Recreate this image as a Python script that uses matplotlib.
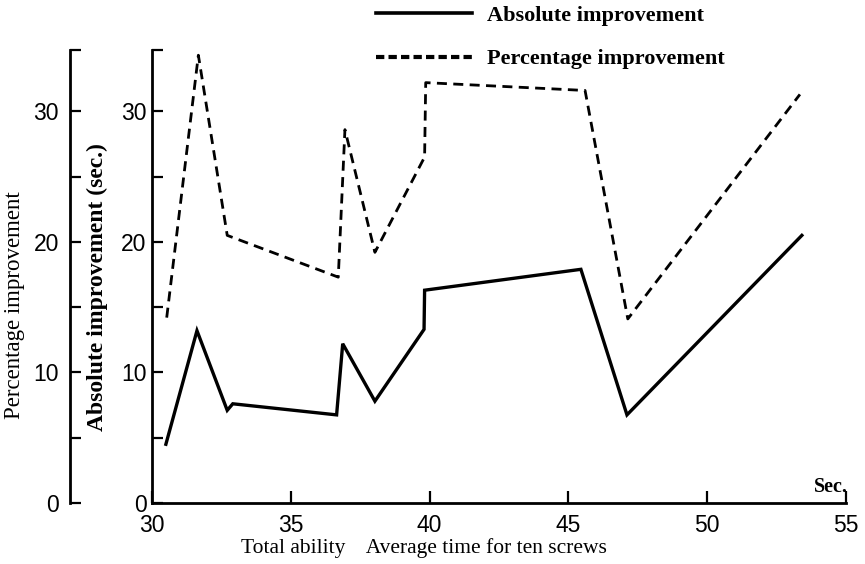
import matplotlib
matplotlib.use("Agg")
import matplotlib.pyplot as plt
from matplotlib.lines import Line2D
from matplotlib.ticker import FixedLocator

plt.rcParams['font.family'] = ['Liberation Serif', 'DejaVu Serif']

# total ability (average time for ten screws, sec.)
abs_x = [30.50, 31.62, 32.71, 32.91, 36.65, 36.87, 38.03, 39.80, 39.82, 45.45, 47.11, 53.41]
abs_y = [4.5, 13.2, 7.1, 7.6, 6.75, 12.2, 7.8, 13.3, 16.3, 17.9, 6.75, 20.5]

pct_x = [30.53, 31.67, 32.71, 36.71, 36.95, 38.03, 39.82, 39.86, 45.60, 47.14, 53.34]
pct_y = [14.2, 34.3, 20.5, 17.3, 28.6, 19.2, 26.5, 32.2, 31.6, 14.1, 31.3]

xticks = [30, 35, 40, 45, 50, 55]
yticks = [0, 10, 20, 30]
yminor = [5, 15, 25, 34.7]

fig = plt.figure(figsize=(8.65, 5.64), dpi=100)
ax = fig.add_axes([152/865, 61/564, (846-152)/865, 453/564])

ax.plot(abs_x, abs_y, color='black', lw=2.4, solid_joinstyle='miter')
ax.plot(pct_x, pct_y, color='black', lw=2.0, linestyle=(0, (3.6, 2.3)))

ax.set_xlim(30, 55)
ax.set_ylim(0, 34.7)
ax.spines['top'].set_visible(False)
ax.spines['right'].set_visible(False)
for s in ['left', 'bottom']:
    ax.spines[s].set_linewidth(2.0)

tick_font = {'family': 'Liberation Sans', 'size': 16.5}
ax.set_xticks(xticks)
ax.set_xticklabels([str(t) for t in xticks], fontdict=tick_font)
ax.set_yticks(yticks)
ax.set_yticklabels([str(t) for t in yticks], fontdict=tick_font)
ax.yaxis.set_minor_locator(FixedLocator(yminor))
ax.xaxis.set_minor_locator(FixedLocator([55]))
ax.tick_params(axis='y', which='both', direction='in', length=8, width=1.6, pad=4)
ax.tick_params(axis='x', which='major', direction='in', length=9, width=1.6, pad=8)
ax.tick_params(axis='x', which='minor', direction='in', length=13, width=2.0)

# outer axis for percentage improvement
sec = ax.secondary_yaxis((70-152)/(846-152))
sec.spines['left'].set_linewidth(2.0)
sec.set_yticks(yticks)
sec.set_yticklabels([str(t) for t in yticks], fontdict=tick_font)
sec.yaxis.set_minor_locator(FixedLocator(yminor))
sec.tick_params(axis='y', which='both', direction='in', length=8, width=1.6, pad=8)

fig.text(15/865, 1-305/564, 'Percentage improvement', rotation=90,
         ha='center', va='center', fontsize=16.5)
fig.text(97/865, 1-287/564, 'Absolute improvement (sec.)', rotation=90,
         ha='center', va='center', fontsize=17, fontweight='bold')
fig.text(424/865, 1-548/564, 'Total ability    Average time for ten screws',
         ha='center', va='center', fontsize=15.5)
fig.text(831/865, 1-487/564, 'Sec.', ha='center', va='center',
         fontsize=14.5, fontweight='bold')

handles = [Line2D([], [], color='black', lw=2.6),
           Line2D([], [], color='black', lw=3.0, linestyle=(0, (2.0, 1.0)))]
fig.legend(handles, ['Absolute improvement', 'Percentage improvement'],
           loc='upper left', bbox_to_anchor=(376/865, 1-5/564), frameon=False,
           borderpad=0, borderaxespad=0, handlelength=4.3, handletextpad=0.7,
           labelspacing=1.05, prop={'family': 'Liberation Serif', 'size': 16, 'weight': 'bold'})

fig.savefig('out.png', dpi=100)
